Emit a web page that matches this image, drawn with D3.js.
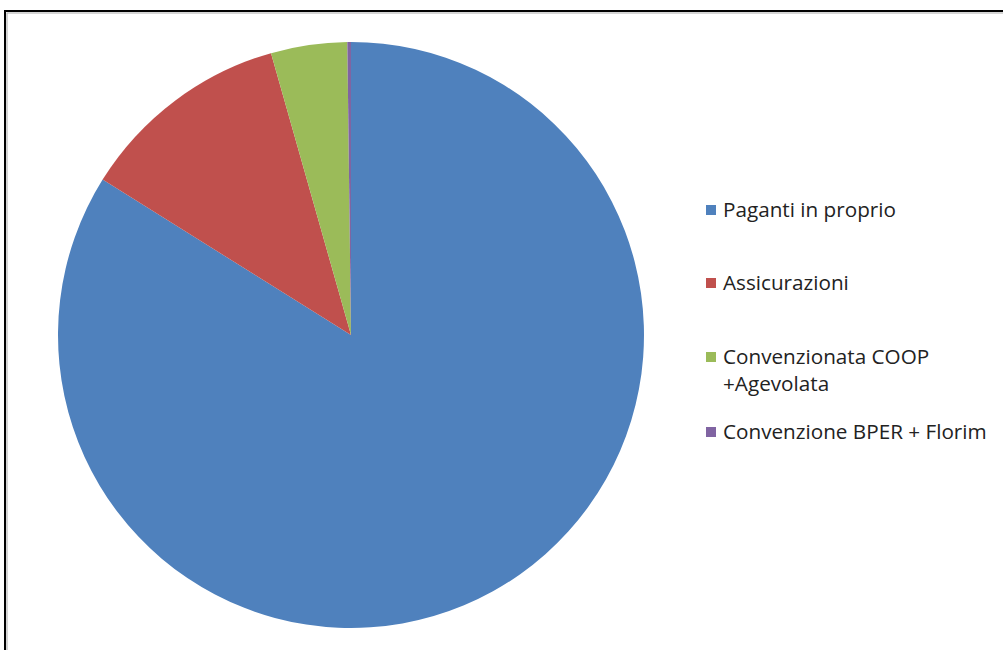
<!DOCTYPE html>
<head>
  <meta charset="utf-8">
  <script src="https://cdn.jsdelivr.net/npm/d3@7/dist/d3.min.js"></script>
  <style>
    body { margin: 0; background: #fff; }
    text { font-family: "Open Sans", Arial, sans-serif; font-size: 20.7px; fill: #222; }
  </style>
</head>
<body>
  <div id="chart"></div>
  <script>

  var categories = ["Paganti in proprio", "Assicurazioni", "Convenzionata COOP\n+Agevolata", "Convenzione BPER + Florim"]
  var values = [83.9, 11.7, 4.2, 0.2]
  var colors = ["#4F81BD", "#C0504D", "#9BBB59", "#8064A2"]

  var width = 1003, height = 650
    , cx = 351, cy = 335, radius = 293

  var svg = d3.select("#chart").append("svg")
      .attr("width", width)
      .attr("height", height)

  // frame
  svg.append("rect")
      .attr("x", 7).attr("y", 13).attr("width", 1010).attr("height", 700)
      .style("fill", "none").style("stroke", "#aaa").style("stroke-width", 1)
  svg.append("rect")
      .attr("x", 5).attr("y", 11).attr("width", 1010).attr("height", 700)
      .style("fill", "none").style("stroke", "#000").style("stroke-width", 2)

  var pie = d3.pie().sort(null).value(function(d) { return d })
  var arc = d3.arc().innerRadius(0).outerRadius(radius)

  svg.append("g")
      .attr("transform", "translate(" + cx + "," + cy + ")")
    .selectAll("path")
      .data(pie(values))
    .enter().append("path")
      .attr("d", arc)
      .style("fill", function(d, i) { return colors[i] })

  var rowY = [210, 283, 357, 432]

  var legend = svg.selectAll(".legend")
      .data(categories)
    .enter().append("g")
      .attr("class", "legend")
      .attr("transform", function(d, i) { return "translate(706," + rowY[i] + ")" })

  legend.append("rect")
      .attr("x", 0).attr("y", -5).attr("width", 10).attr("height", 10)
      .style("fill", function(d, i) { return colors[i] })

  legend.append("text")
      .attr("x", 17)
      .attr("y", 7)
      .each(function(d) {
        var lines = d.split("\n")
        var t = d3.select(this)
        lines.forEach(function(l, j) {
          t.append("tspan").attr("x", 17).attr("dy", j ? 27 : 0).text(l)
        })
      })

  </script>
</body>
